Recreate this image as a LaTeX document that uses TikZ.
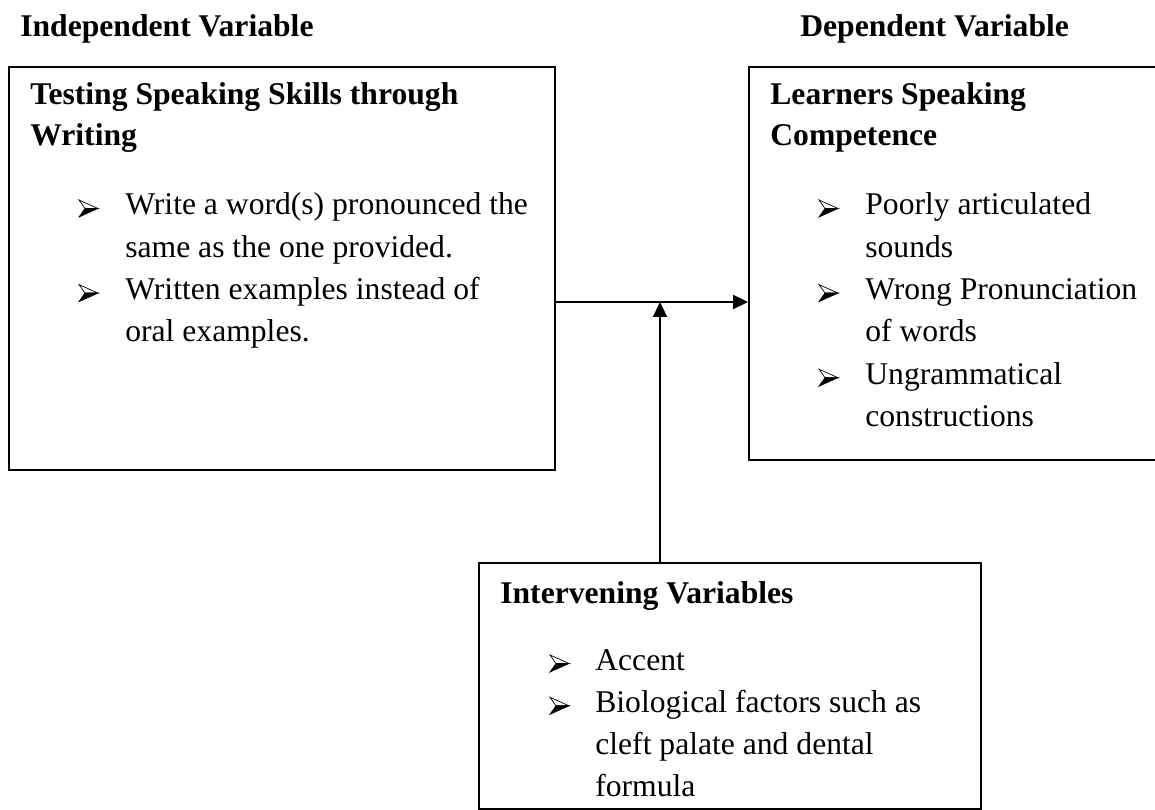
\documentclass[tikz,border=0pt]{standalone}
\usepackage{fontspec}
\setmainfont{Liberation Serif}
\usetikzlibrary{arrows.meta}

\tikzset{
  varbox/.style={draw, line width=1.3pt, inner sep=0pt, anchor=north west},
  body/.style={anchor=base west, inner sep=0pt, font=\fontsize{18}{24}\selectfont},
  head/.style={anchor=base west, inner sep=0pt, font=\fontsize{18}{24}\selectfont\bfseries},
  link/.style={line width=1.3pt, -{Triangle[length=0.3cm,width=0.28cm]}},
  pics/arrowbullet/.style={code={
    \filldraw[fill=white, line width=0.4pt] (0,-15) -- (19,-6.5) -- (6,-6.5) -- cycle;
    \filldraw[fill=black, line width=0.4pt] (6,-6.5) -- (19,-6.5) -- (0,2) -- cycle;
  }}
}

\begin{document}
\begin{tikzpicture}[x=0.02cm, y=-0.02cm]
		\useasboundingbox (0,0) rectangle (1155,810);
		% titles
		\node[head] (indeptitle) at (20,37) {Independent Variable};
		\node[head] (deptitle) at (800,37) {Dependent Variable};
		% boxes
		\node[varbox, minimum width=10.92cm, minimum height=8.06cm] (indep) at (8,66) {};
		\node[varbox, minimum width=8.74cm, minimum height=7.86cm] (dep) at (748,66) {};
		\node[varbox, minimum width=10.04cm, minimum height=4.92cm] (interv) at (478,562) {};
		% independent variable
		\node[head] (indephead1) at (30,105) {Testing Speaking Skills through};
		\node[head] (indephead2) at (30,146) {Writing};
		\foreach \txt [count=\i] in {Write a word(s) pronounced the, same as the one provided., Written examples instead of, oral examples.}
			\node[body] (indepline\i) at (125,{215+42.3*(\i-1)}) {\txt};
		\foreach \i in {1,3}
			\pic at (79,{215+42.3*(\i-1)}) {arrowbullet};
		% dependent variable
		\node[head] (dephead1) at (770,105) {Learners Speaking};
		\node[head] (dephead2) at (770,146) {Competence};
		\foreach \txt [count=\i] in {Poorly articulated, sounds, Wrong Pronunciation, of words, Ungrammatical, constructions}
			\node[body] (depline\i) at (865,{215+42.3*(\i-1)}) {\txt};
		\foreach \i in {1,3,5}
			\pic at (819,{215+42.3*(\i-1)}) {arrowbullet};
		% intervening variables
		\node[head] (intervhead) at (500,603) {Intervening Variables};
		\foreach \txt [count=\i] in {Accent, Biological factors such as, cleft palate and dental, formula}
			\node[body] (intervline\i) at (595,{670+42.3*(\i-1)}) {\txt};
		\foreach \i in {1,2}
			\pic at (550,{670+42.3*(\i-1)}) {arrowbullet};
		% connectors
		\coordinate (meet) at (660,302);
		\draw[link] (indep.east |- meet) -- (dep.west |- meet);
		\draw[link] (interv.north -| meet) -- (meet);
	\end{tikzpicture}
\end{document}
